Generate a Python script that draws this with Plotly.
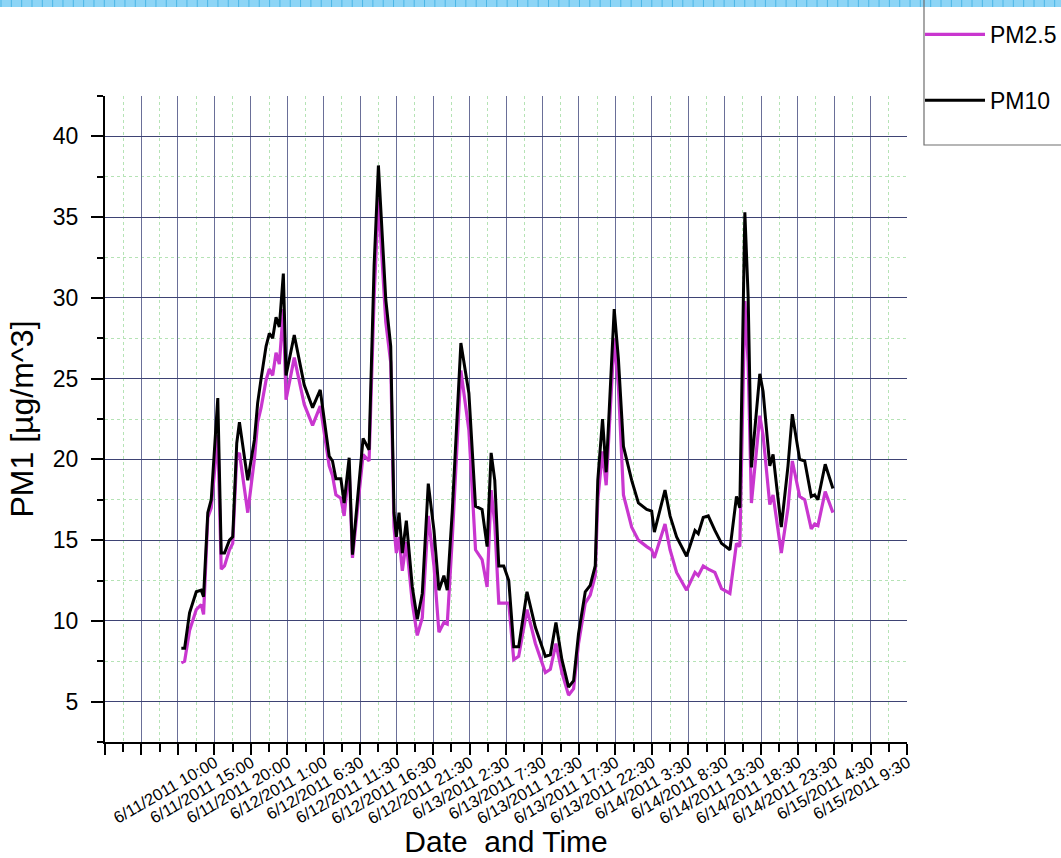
import plotly.graph_objects as go

# hours since 6/11/2011 10:00
hours = [0.47, 0.92, 1.60, 2.52, 3.20, 3.52, 4.10, 4.57, 5.47, 5.94, 6.39, 7.07, 7.52, 8.07, 8.44,
         9.58, 10.49, 10.94, 11.41, 12.09, 12.54, 13.00, 13.46, 13.91, 14.46, 14.83, 15.96, 17.33,
         18.47, 19.52, 20.75, 21.20, 21.67, 22.35, 22.80, 23.49, 23.94, 25.40, 26.22, 26.91, 27.50,
         28.51, 29.19, 29.64, 29.96, 30.33, 30.78, 31.33, 32.15, 32.83, 33.52, 34.34, 35.12, 35.80,
         36.48, 36.94, 37.62, 38.81, 39.91, 40.82, 41.72, 42.41, 42.96, 43.46, 44.01, 44.69, 45.38,
         46.06, 46.74, 47.88, 49.03, 50.40, 51.08, 51.85, 52.67, 53.58, 54.27, 54.95, 55.87, 56.55,
         57.24, 57.59, 58.24, 58.74, 59.84, 60.42, 61.11, 62.24, 63.16, 64.30, 64.98, 65.35, 66.81,
         67.50, 68.40, 69.77, 70.92, 71.37, 72.05, 72.74, 73.65, 74.56, 75.71, 76.61, 77.07, 77.76,
         78.21, 78.66, 79.81, 80.26, 81.18, 81.63, 82.76, 83.68, 84.27, 85.28, 85.97, 86.87, 87.33,
         87.78, 88.78, 89.84]

pm10 = [8.3, 8.3, 10.5, 11.8, 11.9, 11.5, 16.7, 17.5, 23.8, 14.2, 14.2, 15.0, 15.2, 21.0, 22.3,
        18.7, 21.2, 23.5, 25.0, 27.0, 27.8, 27.5, 28.8, 28.2, 31.5, 25.2, 27.7, 24.6,
        23.2, 24.3, 20.2, 19.9, 18.8, 18.8, 17.3, 20.1, 14.1, 21.3, 20.6, 32.0, 38.2,
        29.9, 27.0, 16.7, 15.2, 16.7, 14.2, 16.2, 12.1, 10.1, 11.7, 18.5, 15.6, 11.9,
        12.8, 11.9, 16.7, 27.2, 24.1, 17.1, 16.9, 14.6, 20.4, 18.7, 13.4, 13.4, 12.5,
        8.4, 8.4, 11.8, 9.6, 7.8, 7.9, 9.9, 7.6, 5.9, 6.3, 9.2, 11.8, 12.2,
        13.4, 18.7, 22.5, 19.2, 29.3, 26.2, 20.8, 18.7, 17.3, 16.9, 16.8, 15.5, 18.1,
        16.5, 15.2, 14.0, 15.6, 15.4, 16.4, 16.5, 15.6, 14.8, 14.4, 17.7, 17.0, 35.3,
        30.1, 19.5, 25.3, 24.2, 19.6, 20.3, 15.8, 19.6, 22.8, 20.0, 19.9, 17.7, 17.8,
        17.5, 19.7, 18.2]

pm25 = [7.4, 7.5, 9.4, 10.7, 11.0, 10.4, 16.4, 17.0, 21.5, 13.2, 13.4, 14.4, 14.8, 20.2, 20.4,
        16.7, 20.0, 22.3, 23.2, 24.9, 25.6, 25.2, 26.6, 25.9, 29.3, 23.7, 26.3, 23.4,
        22.1, 23.3, 19.6, 19.0, 17.8, 17.6, 16.5, 19.5, 13.9, 20.3, 19.9, 30.0, 36.2,
        28.5, 26.0, 15.8, 14.2, 15.2, 13.1, 14.9, 11.1, 9.1, 10.2, 16.5, 13.4, 9.3,
        9.9, 9.8, 15.0, 25.5, 21.8, 14.4, 13.8, 12.1, 18.1, 16.0, 11.1, 11.1, 11.1,
        7.6, 7.8, 10.7, 8.6, 6.8, 7.0, 8.6, 6.8, 5.4, 5.8, 8.6, 11.1, 11.6,
        12.8, 17.5, 20.5, 18.4, 27.5, 24.5, 17.8, 15.8, 15.0, 14.6, 14.4, 13.9, 16.0,
        14.4, 13.0, 11.9, 13.0, 12.8, 13.4, 13.2, 13.0, 12.0, 11.7, 14.8, 14.6, 29.8,
        26.0, 17.3, 22.7, 21.5, 17.2, 17.8, 14.2, 17.0, 19.9, 17.7, 17.5, 15.7, 16.0,
        15.9, 18.0, 16.7]

tick_labels = ["6/11/2011 10:00", "6/11/2011 15:00", "6/11/2011 20:00", "6/12/2011 1:00",
               "6/12/2011 6:30", "6/12/2011 11:30", "6/12/2011 16:30", "6/12/2011 21:30",
               "6/13/2011 2:30", "6/13/2011 7:30", "6/13/2011 12:30", "6/13/2011 17:30",
               "6/13/2011 22:30", "6/14/2011 3:30", "6/14/2011 8:30", "6/14/2011 13:30",
               "6/14/2011 18:30", "6/14/2011 23:30", "6/15/2011 4:30", "6/15/2011 9:30"]

tickvals = [-10 + 5 * i for i in range(23)]
ticktext = ["", ""] + tick_labels + [""]

W, H = 1061, 858
ML, MR, MT, MB = 105, 154, 96, 116
PW, PH = W - ML - MR, H - MT - MB

def px2paper_x(px):
    return (px - ML) / PW

def px2paper_y(py):
    return (H - MB - py) / PH

FONT = "Liberation Sans, Arial, sans-serif"

fig = go.Figure()
fig.add_trace(go.Scatter(x=hours, y=pm25, mode="lines", name="PM2.5",
                         line=dict(color="#C936CF", width=3.2), legendgroup="a"))
fig.add_trace(go.Scatter(x=hours, y=pm10, mode="lines", name="PM10",
                         line=dict(color="#000000", width=3), legendgroup="b"))

shapes = []
# top decorative strip
shapes.append(dict(type="rect", xref="paper", yref="paper",
                   x0=px2paper_x(0), x1=px2paper_x(W), y0=px2paper_y(7), y1=px2paper_y(0),
                   fillcolor="#8DD5F6", line=dict(width=0), layer="above"))
k = 0
while k * 10.33 < W:
    xp = 1 + k * 10.33
    shapes.append(dict(type="line", xref="paper", yref="paper",
                       x0=px2paper_x(xp), x1=px2paper_x(xp), y0=px2paper_y(7), y1=px2paper_y(0),
                       line=dict(color="#4DB6E6", width=1), layer="above"))
    k += 1
# legend frame
shapes.append(dict(type="rect", xref="paper", yref="paper",
                   x0=px2paper_x(924), x1=px2paper_x(W + 20), y0=px2paper_y(145), y1=px2paper_y(-5),
                   fillcolor="rgba(0,0,0,0)", line=dict(color="#6E6E6E", width=1.2)))

fig.update_layout(
    width=W, height=H,
    margin=dict(l=ML, r=MR, t=MT, b=MB, autoexpand=False),
    paper_bgcolor="white", plot_bgcolor="white",
    font=dict(family=FONT, color="black"),
    showlegend=True,
    legend=dict(x=px2paper_x(920), y=px2paper_y(13), xanchor="left", yanchor="top",
                font=dict(size=23, family=FONT), bgcolor="rgba(0,0,0,0)",
                borderwidth=0, tracegroupgap=33, itemwidth=60),
    shapes=shapes,
    xaxis=dict(
        range=[-10, 100], tickmode="array", tickvals=tickvals, ticktext=ticktext,
        tickangle=-30, tickfont=dict(size=16.5, family=FONT, color="black"),
        ticks="outside", ticklen=11, tickwidth=2, tickcolor="black",
        ticklabelshift=37, ticklabelstandoff=-8,
        showline=True, linewidth=2, linecolor="black",
        showgrid=True, gridcolor="#6A6F98", gridwidth=1,
        zeroline=False,
        minor=dict(tickmode="linear", tick0=-10, dtick=2.5, ticks="outside", ticklen=8,
                   tickwidth=2, tickcolor="black", showgrid=True,
                   gridcolor="#B5E3B5", griddash="dot", gridwidth=1),
        title=dict(text="Date \u00a0and Time", font=dict(size=30, family=FONT), standoff=8),
    ),
    yaxis=dict(
        range=[2.5, 42.5], tickmode="linear", tick0=5, dtick=5,
        tickfont=dict(size=23, family=FONT, color="black"),
        ticks="outside", ticklen=12, tickwidth=2, tickcolor="black",
        ticklabelstandoff=8,
        showline=True, linewidth=2, linecolor="black",
        showgrid=True, gridcolor="#3E4374", gridwidth=1,
        zeroline=False,
        minor=dict(tickmode="linear", tick0=2.5, dtick=2.5, ticks="outside", ticklen=6,
                   tickwidth=2, tickcolor="black", showgrid=True,
                   gridcolor="#B5E3B5", griddash="dot", gridwidth=1),
        title=dict(text="PM1 [µg/m^3]", font=dict(size=32, family=FONT), standoff=10),
    ),
)

fig.write_html("out.html", config={"displayModeBar": False},
               post_script="document.body.style.margin='0';document.body.style.overflow='hidden';")
